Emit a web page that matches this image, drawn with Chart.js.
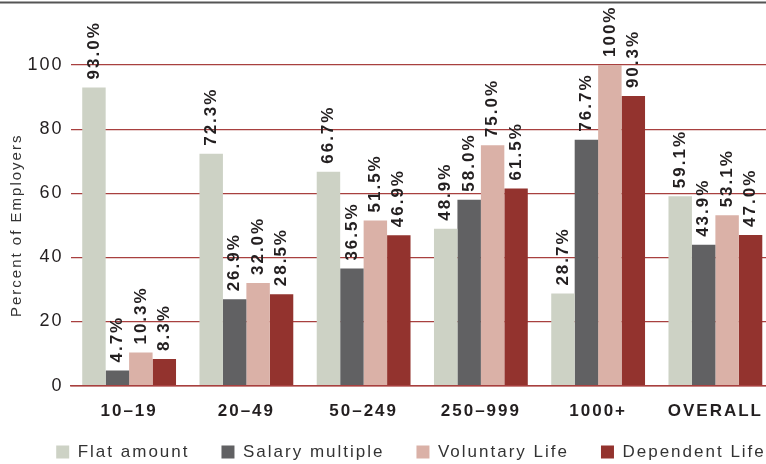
<!DOCTYPE html>
<html>
<head>
<meta charset="utf-8">
<script src="https://cdn.jsdelivr.net/npm/chart.js@4/dist/chart.umd.min.js"></script>
<style>
  html, body { margin: 0; padding: 0; background: #fff; overflow: hidden; width: 766px; height: 464px; }
  #wrap { width: 779px; height: 464px; }
</style>
</head>
<body>
<div id="wrap"><canvas id="c" width="779" height="464"></canvas></div>
<script>
// Life insurance benefit types by employer size (percent of employers)
const categories = ['10–19', '20–49', '50–249', '250–999', '1000+', 'OVERALL'];
const seriesNames = ['Flat amount', 'Salary multiple', 'Voluntary Life', 'Dependent Life'];
const flatAmount     = [93.0, 72.3, 66.7, 48.9, 28.7, 59.1];
const salaryMultiple = [4.7, 26.9, 36.5, 58.0, 76.7, 43.9];
const voluntaryLife  = [10.3, 32.0, 51.5, 75.0, 100, 53.1];
const dependentLife  = [8.3, 28.5, 46.9, 61.5, 90.3, 47.0];
const yTicks = [0, 20, 40, 60, 80, 100];
const yTitle = 'Percent of Employers';

const seriesColors = ['#cdd2c5', '#616163', '#dab1a7', '#93332e'];
const FONT = '"Liberation Sans", Arial, Helvetica, sans-serif';
const TEXT = '#231f20';
const RED_LINE = '#a8403f';

const formatPct = v => (v === 100 ? '100' : v.toFixed(1)) + '%';

// Wide tracking on all canvas text
const tracking = {
  id: 'tracking',
  beforeUpdate(chart) { chart.ctx.letterSpacing = '2px'; },
  beforeDraw(chart) { chart.ctx.letterSpacing = '2px'; }
};

// Rule across the top of the figure
const topRule = {
  id: 'topRule',
  beforeDraw(chart) {
    const ctx = chart.ctx;
    ctx.save();
    ctx.strokeStyle = '#555555';
    ctx.lineWidth = 1.8;
    ctx.beginPath();
    ctx.moveTo(0, 2.5);
    ctx.lineTo(chart.width, 2.5);
    ctx.stroke();
    ctx.restore();
  }
};

// Legend sits centred under the visible plot rather than the full canvas
const legendPlacement = {
  id: 'legendPlacement',
  afterLayout(chart) {
    const lg = chart.legend;
    if (!lg) return;
    const dx = 21.5, dy = -26.5;
    lg.left += dx; lg.right += dx;
    lg.top += dy; lg.bottom += dy;
  }
};

// Vertical value labels above each bar
const barValueLabels = {
  id: 'barValueLabels',
  afterDatasetsDraw(chart) {
    const ctx = chart.ctx;
    ctx.save();
    ctx.fillStyle = TEXT;
    ctx.font = 'bold 17px ' + FONT;
    ctx.letterSpacing = '2px';
    ctx.textAlign = 'left';
    ctx.textBaseline = 'middle';
    chart.data.datasets.forEach((ds, di) => {
      const meta = chart.getDatasetMeta(di);
      meta.data.forEach((bar, i) => {
        ctx.save();
        ctx.translate(bar.x, bar.y - 8);
        ctx.rotate(-Math.PI / 2);
        ctx.fillText(formatPct(ds.data[i]), 0, 0);
        ctx.restore();
      });
    });
    ctx.restore();
  }
};

const seriesData = [flatAmount, salaryMultiple, voluntaryLife, dependentLife];

new Chart(document.getElementById('c'), {
  type: 'bar',
  data: {
    labels: categories,
    datasets: seriesNames.map((name, k) => ({
      label: name,
      data: seriesData[k],
      backgroundColor: seriesColors[k],
      borderWidth: 0,
      barPercentage: 1.0,
      categoryPercentage: 0.8
    }))
  },
  options: {
    responsive: false,
    animation: false,
    devicePixelRatio: 1,
    layout: { padding: { top: 65, left: 0, right: 0, bottom: -33 } },
    plugins: {
      tooltip: { enabled: false },
      legend: {
        position: 'bottom',
        labels: {
          color: '#333333',
          font: { family: FONT, size: 17 },
          boxWidth: 13,
          boxHeight: 13,
          padding: 32
        }
      }
    },
    scales: {
      x: {
        grid: { display: false, drawTicks: false },
        border: { display: true, color: RED_LINE, width: 1.5 },
        ticks: {
          color: TEXT,
          font: { family: FONT, size: 17, weight: 'bold' },
          padding: 16,
          maxRotation: 0
        }
      },
      y: {
        min: 0,
        max: 100,
        afterBuildTicks(scale) { scale.ticks = yTicks.map(v => ({ value: v })); },
        grid: { color: RED_LINE, lineWidth: 1.2, drawTicks: false },
        border: { display: false },
        ticks: {
          color: TEXT,
          font: { family: FONT, size: 18 },
          padding: 7
        },
        title: {
          display: true,
          text: yTitle,
          color: '#333333',
          font: { family: FONT, size: 15 },
          padding: { top: 8, bottom: 4 }
        },
        afterFit(scale) { scale.width = 70.5; }
      }
    }
  },
  plugins: [tracking, topRule, legendPlacement, barValueLabels]
});
</script>
</body>
</html>
